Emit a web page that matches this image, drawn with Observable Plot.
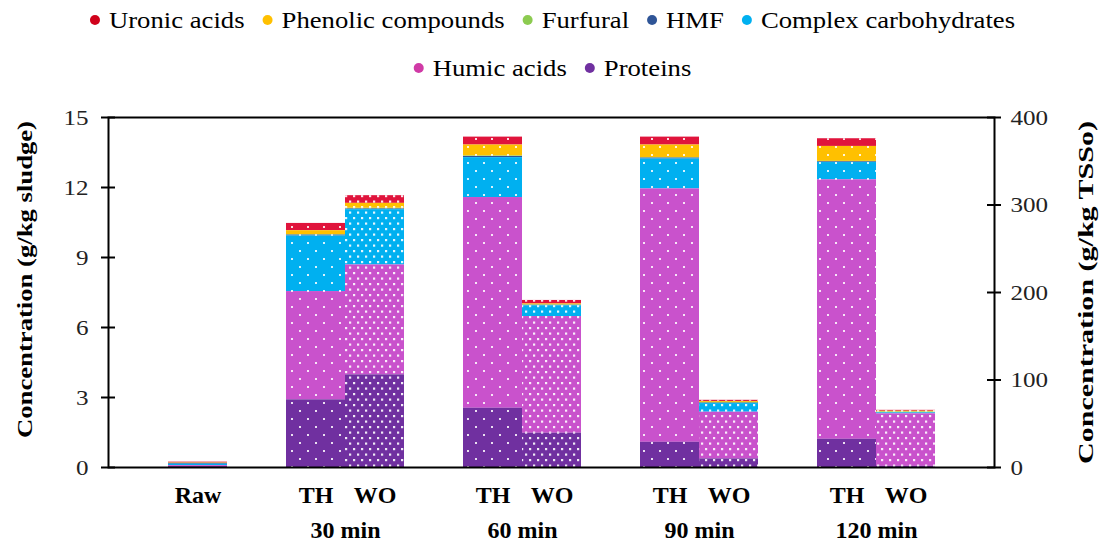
<!DOCTYPE html>
<html><head><meta charset="utf-8">
<script src="https://cdn.jsdelivr.net/npm/d3@7"></script>
<script src="https://cdn.jsdelivr.net/npm/@observablehq/plot@0.6"></script>
<style>
body{margin:0;background:#fff;font-family:"Liberation Serif","Times New Roman",Times,serif;}
#legend{height:95px;}
#legend svg, #chart svg{display:block;}
#chart svg text, #legend svg text{font-family:"Liberation Serif","Times New Roman",Times,serif;}
</style></head><body>
<svg width="0" height="0" style="position:absolute">
<defs>
<pattern id="dotsTH" width="16" height="16" patternUnits="userSpaceOnUse">
<rect x="3" y="3" width="2" height="2" fill="#fff" fill-opacity="0.85"/>
<rect x="11" y="11" width="2" height="2" fill="#fff" fill-opacity="0.85"/>
</pattern>
<pattern id="dotsWO" width="8" height="11" patternUnits="userSpaceOnUse">
<rect x="1" y="1" width="2.2" height="2.2" fill="#fff" fill-opacity="0.9"/>
<rect x="5" y="6.5" width="2.2" height="2.2" fill="#fff" fill-opacity="0.9"/>
</pattern>
</defs></svg>
<div id="legend"></div>
<div id="chart"></div>
<script>
// ---- data ----
const bars = ["Raw","TH30","WO30","TH60","WO60","TH90","WO90","TH120","WO120"];
const barLabels = ["Raw","TH","WO","TH","WO","TH","WO","TH","WO"];
const treatment = ["Raw","TH","WO","TH","WO","TH","WO","TH","WO"];
const groups = ["30 min","60 min","90 min","120 min"];
const groupFirstBar = ["TH30","TH60","TH90","TH120"];
const components = ["Uronic acids","Phenolic compounds","Furfural","HMF","Complex carbohydrates","Humic acids","Proteins"];
const colors = ["#E0143C","#FFC000","#92D050","#2F5597","#00B0F0","#C952CC","#7030A0"];
const legendColors = ["#D0021B","#FFC000","#8CCB50","#2F5597","#00B0F0","#D03AA6","#7030A0"];
const proteins = [0.04, 2.90, 3.97, 2.54, 1.47, 1.08, 0.37, 1.21, 0.05];
const humic    = [0.04, 4.64, 4.71, 9.03, 5.00, 10.86, 2.00, 11.12, 2.25];
const complex  = [0.06, 2.38, 2.37, 1.71, 0.46, 1.28, 0.37, 0.74, 0.04];
const hmf      = [0.03, 0.04, 0.03, 0.05, 0.02, 0.04, 0.02, 0.03, 0.01];
const furfural = [0.01, 0.02, 0.03, 0.02, 0.02, 0.02, 0.03, 0.02, 0.03];
const phenolic = [0.01, 0.17, 0.21, 0.47, 0.04, 0.54, 0.04, 0.64, 0.03];
const uronic   = [0.04, 0.31, 0.33, 0.34, 0.15, 0.34, 0.05, 0.33, 0.04];
const leftTicks = [0, 3, 6, 9, 12, 15];
const rightTicks = [0, 100, 200, 300, 400];
const leftMax = 15, rightMax = 400;
const yLeftTitle = "Concentration (g/kg sludge)";
const yRightTitle = "Concentration (g/kg TSSo)";

const series = {"Uronic acids": uronic, "Phenolic compounds": phenolic, "Furfural": furfural, "HMF": hmf,
  "Complex carbohydrates": complex, "Humic acids": humic, "Proteins": proteins};
const stackOrder = components.slice().reverse();

const rows = [];
bars.forEach((b, i) => components.forEach(c => rows.push({bar: b, treatment: treatment[i], component: c, value: series[c][i]})));
const rowsTH = rows.filter(d => d.treatment === "TH");
const rowsWO = rows.filter(d => d.treatment === "WO");

// ---- layout ----
const W = 1105, H = 447;
const mL = 108, mR = 111, mT = 22, mB = 75;
const plotW = W - mL - mR;
const slots = ["s0","Raw","s2","TH30","WO30","s5","TH60","WO60","s8","TH90","WO90","s11","TH120","WO120","s14"];
const band = plotW / slots.length;
const FONT = '"Liberation Serif", "Times New Roman", Times, serif';

// ---- legend ----
const LF = 1.16;
const lsvg = d3.select("#legend").append("svg").attr("width", W).attr("height", 95)
  .style("font-family", FONT);
[[components.slice(0,5), 20], [components.slice(5), 68]].forEach(([row, cy]) => {
  const g = lsvg.append("g");
  let x = 0, end = 0;
  row.forEach(name => {
    g.append("circle").attr("cx", x + 5).attr("cy", cy).attr("r", 5).attr("fill", legendColors[components.indexOf(name)]);
    const t = g.append("text").attr("x", x + 19).attr("y", cy).attr("dy", "0.33em")
      .attr("font-size", 23).attr("fill", "#000").text(name);
    const len = t.node().getComputedTextLength() * LF;
    t.attr("textLength", len).attr("lengthAdjust", "spacingAndGlyphs");
    end = x + 19 + len;
    x = end + 18;
  });
  g.attr("transform", `translate(${(W - end) / 2},0)`);
});

// ---- chart ----
const plot = Plot.plot({
  width: W, height: H, marginLeft: mL, marginRight: mR, marginTop: mT, marginBottom: mB,
  style: {fontFamily: FONT, background: "white", color: "#000", overflow: "visible"},
  x: {domain: slots, padding: 0, axis: null},
  y: {domain: [0, leftMax], axis: null},
  color: {domain: components, range: colors},
  marks: [
    Plot.barY(rows, {x: "bar", y: "value", z: "component", order: stackOrder, fill: "component"}),
    Plot.barY(rowsTH, {x: "bar", y: "value", z: "component", order: stackOrder, fill: "url(#dotsTH)"}),
    Plot.barY(rowsWO, {x: "bar", y: "value", z: "component", order: stackOrder, fill: "url(#dotsWO)"}),
    Plot.ruleY(leftTicks, {insetLeft: -7, insetRight: plotW - 7, strokeWidth: 2, stroke: "#000"}),
    Plot.ruleY(rightTicks, {y: d => d * leftMax / rightMax, insetLeft: plotW - 7, insetRight: -7, strokeWidth: 2, stroke: "#000"}),
    Plot.frame({strokeWidth: 2, stroke: "#000"}),
    Plot.axisY({anchor: "left", ticks: leftTicks, tickSize: 0, tickPadding: 20, fontSize: 22, label: null, fill: "#222"}),
    Plot.axisY({anchor: "right", ticks: rightTicks.map(v => v * leftMax / rightMax), tickFormat: v => Math.round(v * rightMax / leftMax),
      tickSize: 0, tickPadding: 16, fontSize: 22, label: null, fill: "#222"}),
    Plot.text([yLeftTitle], {frameAnchor: "left", textAnchor: "middle", rotate: -90, dx: -84, dy: -13, fontSize: 22, fontWeight: "bold", text: d => d}),
    Plot.text([yRightTitle], {frameAnchor: "right", textAnchor: "middle", rotate: -90, dx: 92, fontSize: 21, fontWeight: "bold", text: d => d}),
    Plot.text(bars, {x: d => d, text: (d, i) => barLabels[i], frameAnchor: "bottom", dy: 35, fontSize: 24, fontWeight: "bold"}),
    Plot.text(groups, {x: (d, i) => groupFirstBar[i], text: d => d, frameAnchor: "bottom", dy: 70, dx: band / 2, fontSize: 24, fontWeight: "bold"})
  ]
});
document.getElementById("chart").appendChild(plot);

// widen tick labels like the reference
d3.select(plot).selectAll('g[aria-label="y-axis tick label"] text').each(function () {
  const len = this.getComputedTextLength();
  if (len > 0) { this.setAttribute("textLength", len * 1.14); this.setAttribute("lengthAdjust", "spacingAndGlyphs"); }
});
// fit the rotated axis titles to the reference's span along the axis
const titleSpan = {[yLeftTitle]: 317, [yRightTitle]: 343};
d3.select(plot).selectAll("text").each(function () {
  const span = titleSpan[this.textContent];
  if (span) { this.setAttribute("textLength", span); this.setAttribute("lengthAdjust", "spacingAndGlyphs"); }
});
</script>
</body></html>
